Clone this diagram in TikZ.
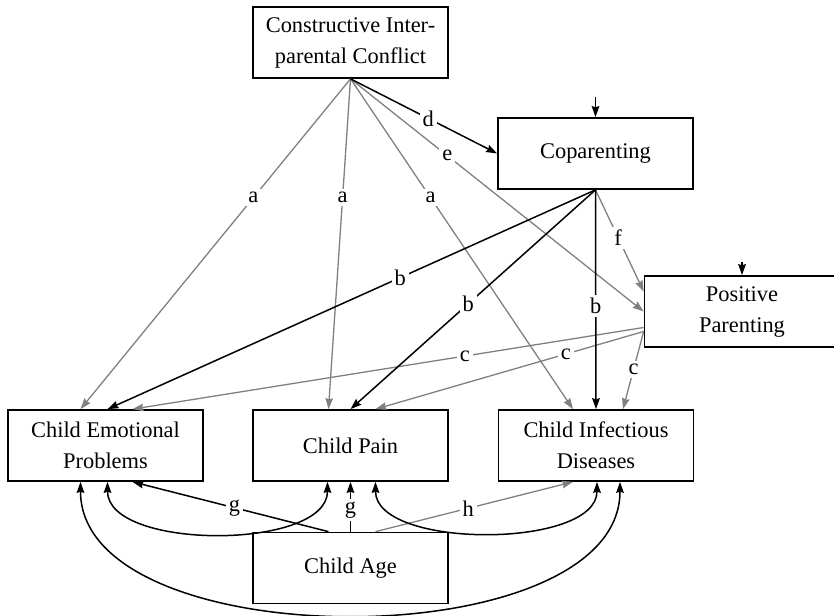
\documentclass[tikz,border=0pt]{standalone}
\usepackage{fontspec}
\setmainfont{Liberation Serif}
\usetikzlibrary{arrows.meta,calc}
\definecolor{pathgray}{RGB}{128,128,128}
\tikzset{
  >={Stealth[length=5.5pt,width=3.8pt,inset=0.6pt]},
  var/.style={draw, line width=0.85pt, minimum width=97.5pt, minimum height=35.5pt,
    inner sep=0pt, align=center, font=\fontsize{11.2}{15.5}\selectfont},
  blk/.style={->, line width=0.75pt, black},
  gry/.style={->, line width=0.65pt, pathgray},
  cov/.style={<->, line width=0.75pt, black},
  lbl/.style={fill=white, inner sep=1.5pt, text=black, font=\fontsize{11.2}{13}\selectfont}
}
\begin{document}
\begin{tikzpicture}[x=0.5pt,y=-0.5pt]
      \useasboundingbox (0,0) rectangle (834,615);
      \draw
        (350.5,42.5) node[var] (cipc){Constructive Inter-\\parental Conflict}
        (595.5,153.5) node[var] (cop){Coparenting}
        (742,311.5) node[var] (pos){Positive\\Parenting}
        (105.5,445.5) node[var] (emo){Child Emotional\\Problems}
        (350.5,445.5) node[var] (pain){Child Pain}
        (596,445.5) node[var] (inf){Child Infectious\\Diseases}
        (350.5,568) node[var] (age){Child Age};
      \coordinate (copres) at (595.5,97);
      \coordinate (posres) at (742,262);
      \begin{scope}[gry]
        \draw (cipc.south) to node[lbl,pos=0.36]{a} ($(emo.north)+(-25,0)$);
        \draw (cipc.south) to node[lbl,pos=0.36]{a} ($(pain.north)+(-22,0)$);
        \draw (cipc.south) to node[lbl,pos=0.36]{a} ($(inf.north)+(-23,0)$);
        \draw (cipc.south) to node[lbl,pos=0.33]{e} (pos.west);
        \draw (cop.south) to node[lbl,pos=0.47]{f} ($(pos.west)+(0,-20)$);
        \draw ($(pos.west)+(0,16)$) to node[lbl,pos=0.35]{c} ($(emo.north)+(27,0)$);
        \draw ($(pos.west)+(0,20)$) to node[lbl,pos=0.29]{c} ($(pain.north)+(25,0)$);
        \draw ($(pos.west)+(0,20)$) to node[lbl,pos=0.49]{c} ($(inf.north)+(27,0)$);
        \draw ($(age.north)+(25,0)$) to node[lbl,pos=0.47]{h} ($(inf.south)+(-23,0)$);
      \end{scope}
      \begin{scope}[blk]
        \draw (cipc.south) to node[lbl,pos=0.53]{d} (cop.west);
        \draw (cop.south) to node[lbl,pos=0.4]{b} ($(emo.north)+(2,0)$);
        \draw (cop.south) to node[lbl,pos=0.52]{b} (pain.north);
        \draw (cop.south) to node[lbl,pos=0.53]{b} (inf.north);
        \draw ($(age.north)+(-22,0)$) to node[lbl,pos=0.48]{g} ($(emo.south)+(27,0)$);
        \draw (age.north) to node[lbl,pos=0.44]{g} (pain.south);
        \draw (copres) to (cop.north);
        \draw (posres) to (pos.north);
      \end{scope}
      \begin{scope}[cov]
        \draw ($(emo.south)+(2,0)$) to[out=-90,in=-90,looseness=0.8] ($(pain.south)+(-23,0)$);
        \draw ($(pain.south)+(25,0)$) to[out=-90,in=-90,looseness=0.78] ($(inf.south)+(1,0)$);
        \draw ($(emo.south)+(-25,0)$) to[out=-90,in=-90,looseness=0.84] ($(inf.south)+(24,0)$);
      \end{scope}
    \end{tikzpicture}
\end{document}
